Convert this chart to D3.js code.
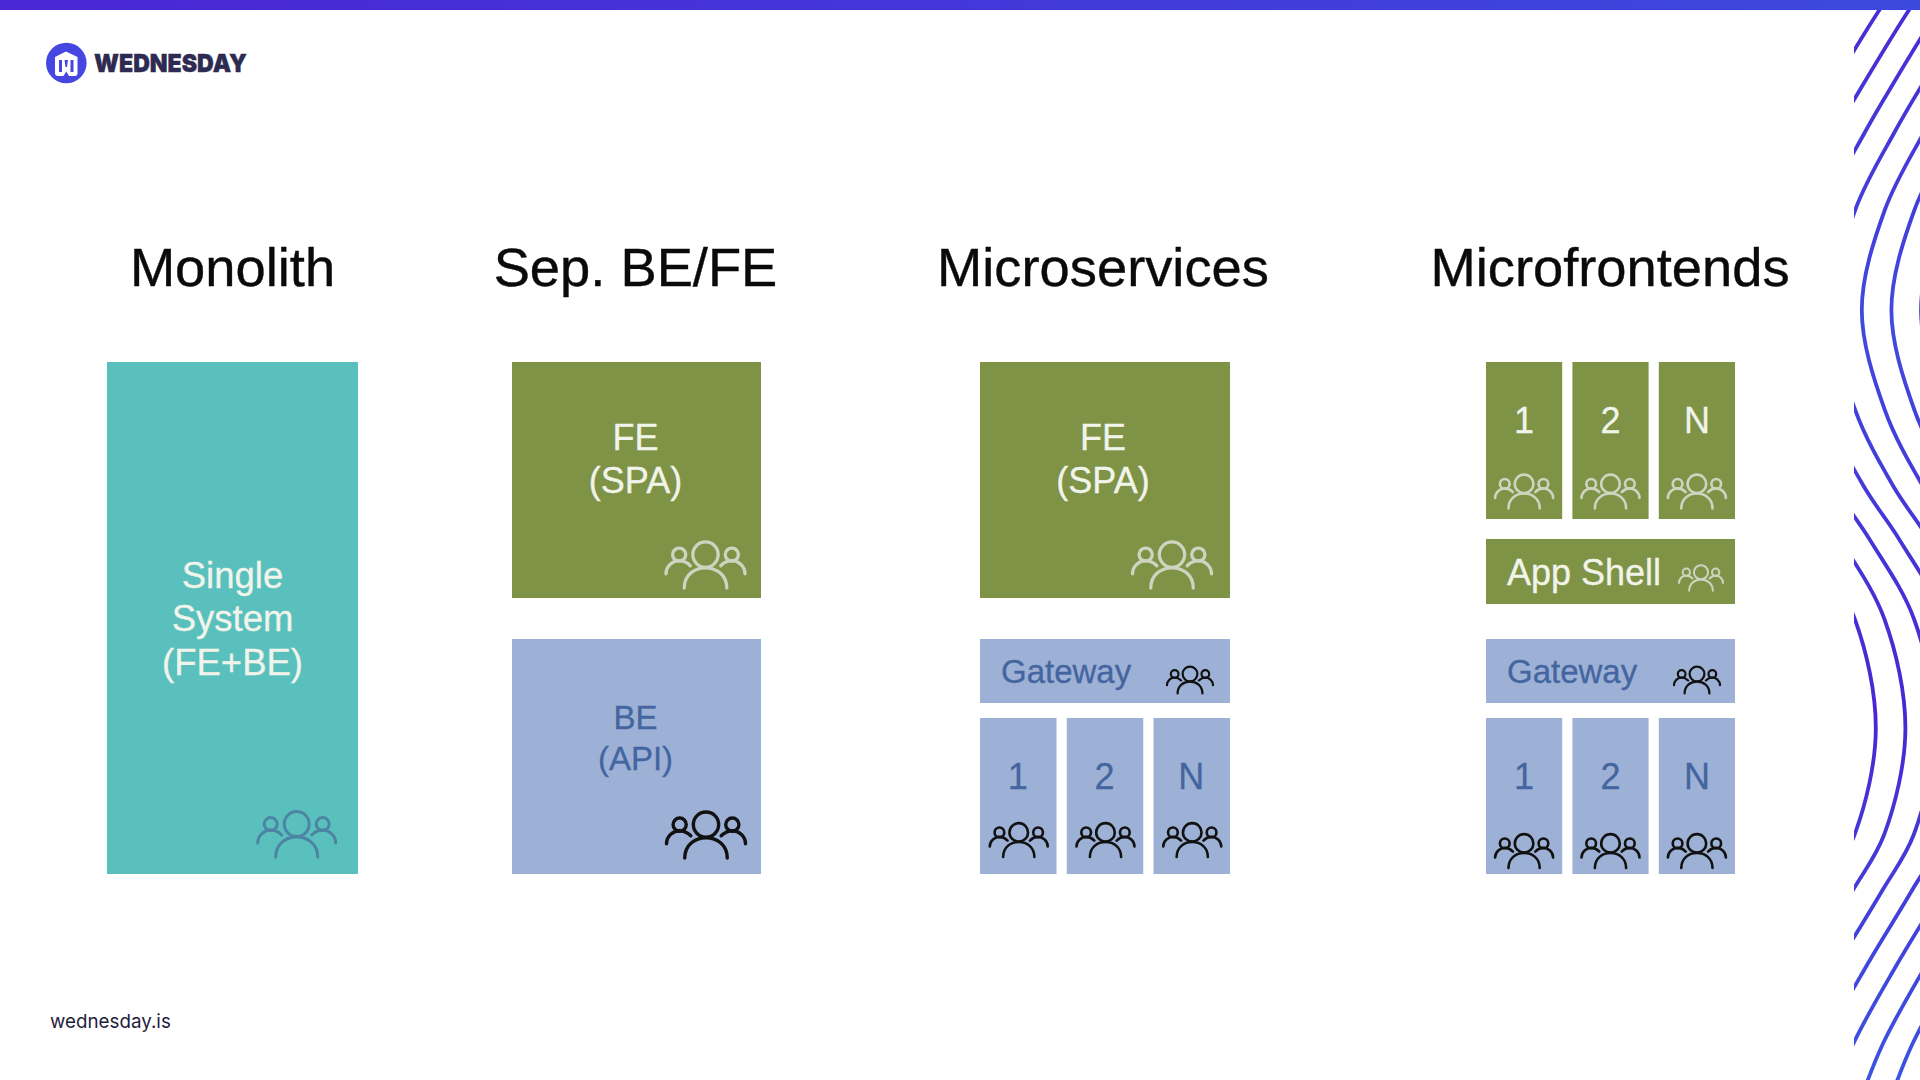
<!DOCTYPE html>
<html>
<head>
<meta charset="utf-8">
<script src="https://cdn.jsdelivr.net/npm/d3@7.9.0/dist/d3.min.js"></script>
<style>
html, body { margin: 0; padding: 0; background: #fff; }
svg { display: block; }
text { font-family: "Liberation Sans", Arial, sans-serif; }
</style>
</head>
<body>
<div id="slide"></div>
<script>
// ---------- DATA ----------

const columnTitles = ["Monolith", "Sep. BE/FE", "Microservices", "Microfrontends"];
const monolithLines = ["Single", "System", "(FE+BE)"];
const feLines = ["FE", "(SPA)"];
const beLines = ["BE", "(API)"];
const cellLabels = ["1", "2", "N"];
const gatewayLabel = "Gateway";
const shellLabel = "App Shell";
const brandName = "WEDNESDAY";
const footerText = "wednesday.is";

const waveY = [-30, 10, 83, 131, 210, 310, 410, 486, 540, 619, 729, 834, 891, 964, 1044, 1110];
const waveX = [1937, 1909, 1864, 1836, 1796, 1773, 1796, 1834, 1870, 1914, 1935, 1914, 1882, 1838, 1794, 1768];
const waveSteps = [-2, -1, 0, 1, 2, 3, 4, 5];

// ---------- SETUP ----------

const W = 1920, H = 1080;
const GREEN = "#7f9347", BLUE = "#9cb1d5", TEAL = "#5ac0bd";
const SOFT_WHITE = "#f1f4ea", BLUE_TEXT = "#44659f";
const ICON_LIGHT = "#ced4c0", ICON_DARK = "#111", ICON_TEAL = "#4c84a3";

const svg = d3.select("#slide").append("svg")
    .attr("width", W)
    .attr("height", H)
    .attr("viewBox", `0 0 ${W} ${H}`);

const defs = svg.append("defs");

const barGradient = defs.append("linearGradient")
    .attr("id", "barGradient");
barGradient.append("stop").attr("offset", "0%").attr("stop-color", "#4a26d4");
barGradient.append("stop").attr("offset", "100%").attr("stop-color", "#3c49de");

const waveGradient = defs.append("linearGradient")
    .attr("id", "waveGradient")
    .attr("gradientUnits", "userSpaceOnUse")
    .attr("x1", 0).attr("y1", 0).attr("x2", 0).attr("y2", H);
[[0, "#4a2ad4"], [0.3, "#3f4ade"], [0.66, "#4a26d2"], [1, "#3c55e0"]].forEach(([o, c]) => {
    waveGradient.append("stop").attr("offset", o).attr("stop-color", c);
});

defs.append("clipPath").attr("id", "waveClip")
    .append("rect")
    .attr("x", 1854).attr("y", 10)
    .attr("width", W - 1854).attr("height", H - 10);

// ---------- WAVES + TOP BAR ----------

const stepScale = d3.scaleLinear().domain([0, 1]).range([0, 29.6]);
const waveLine = d3.line().curve(d3.curveCatmullRom.alpha(0.5));

svg.append("g")
    .attr("clip-path", "url(#waveClip)")
    .selectAll("path")
    .data(waveSteps)
    .join("path")
    .attr("d", s => waveLine(waveY.map((y, i) => [waveX[i] + stepScale(s), y])))
    .attr("fill", "none")
    .attr("stroke", "url(#waveGradient)")
    .attr("stroke-width", 3.8);

svg.append("rect")
    .attr("width", W)
    .attr("height", 10)
    .attr("fill", "url(#barGradient)");

// ---------- HELPERS ----------

function box(x0, x1, y0, y1, fill) {
    svg.append("rect")
        .attr("x", x0).attr("y", y0)
        .attr("width", x1 - x0).attr("height", y1 - y0)
        .attr("fill", fill);
}

function label(lines, x, baseline, size, step, fill, anchor = "middle") {
    svg.append("g")
        .selectAll("text")
        .data(lines)
        .join("text")
        .attr("x", x)
        .attr("y", (d, i) => baseline + i * step)
        .attr("font-size", size)
        .attr("text-anchor", anchor)
        .attr("fill", fill)
        .attr("stroke", fill)
        .attr("stroke-width", 0.3)
        .text(d => d);
}

// three people, drawn 78 wide around their centre and scaled to the box
function people(cx, cy, width, color, strokeW = 3) {
    const k = width / 78;
    const g = svg.append("g")
        .attr("transform", `translate(${cx},${cy + 5.75 * k}) scale(${k})`)
        .attr("fill", "none")
        .attr("stroke", color)
        .attr("stroke-width", strokeW / k)
        .attr("stroke-linecap", "round");

    g.append("circle").attr("cy", -16).attr("r", 12.5);
    [-26, 26].forEach(x => g.append("circle").attr("cx", x).attr("cy", -16).attr("r", 6.5));

    g.append("path").attr("d", "M-21,17 C-21,4 -11,-3 0,-3 C11,-3 21,4 21,17");
    g.append("path").attr("d", "M-39,3 C-39,-5 -32,-10 -26,-10 C-22,-10 -18,-8 -15,-5");
    g.append("path").attr("d", "M39,3 C39,-5 32,-10 26,-10 C22,-10 18,-8 15,-5");
}

function cellScale(x0, x1) {
    return d3.scaleBand().domain(cellLabels).range([x0, x1]).paddingInner(0.118);
}

// ---------- TITLES ----------

const titleCentres = [232.5, 635.5, 1103, 1610];

svg.append("g")
    .selectAll("text")
    .data(columnTitles)
    .join("text")
    .attr("x", (d, i) => titleCentres[i])
    .attr("y", 285.5)
    .attr("font-size", 54.3)
    .attr("text-anchor", "middle")
    .attr("fill", "#0a0a0a")
    .attr("stroke", "#0a0a0a")
    .attr("stroke-width", 0.4)
    .text(d => d);

// ---------- MONOLITH ----------

box(107, 358, 362, 874, TEAL);
label(monolithLines, 232.5, 588, 36.5, 43.3, SOFT_WHITE);
people(296.7, 834.3, 78, ICON_TEAL);

// ---------- SEP. BE/FE ----------

box(512, 761, 362, 598, GREEN);
label(feLines, 635.5, 450, 36, 43.3, SOFT_WHITE);
people(705.5, 565, 79, ICON_LIGHT, 3.3);

box(512, 761, 639, 874, BLUE);
label(beLines, 635.5, 729, 33, 40.5, BLUE_TEXT);
people(706, 835, 79, ICON_DARK, 3.4);

// ---------- MICROSERVICES ----------

box(980, 1230, 362, 598, GREEN);
label(feLines, 1103, 450, 36, 43.3, SOFT_WHITE);
people(1172, 565, 79, ICON_LIGHT, 3.3);

box(980, 1230, 639, 703, BLUE);
label([gatewayLabel], 1001, 683, 33, 0, BLUE_TEXT, "start");
people(1190, 680, 46, ICON_DARK, 2.2);

const microCells = cellScale(980, 1230);
cellLabels.forEach(c => {
    const cx = microCells(c) + microCells.bandwidth() / 2;
    box(microCells(c), microCells(c) + microCells.bandwidth(), 718, 874, BLUE);
    label([c], cx - 0.5, 789, 36, 0, BLUE_TEXT);
    people(cx + 0.5, 840, 58, ICON_DARK, 2.6);
});

// ---------- MICROFRONTENDS ----------

const frontCells = cellScale(1486, 1735);
cellLabels.forEach(c => {
    const cx = frontCells(c) + frontCells.bandwidth() / 2;
    box(frontCells(c), frontCells(c) + frontCells.bandwidth(), 362, 519, GREEN);
    label([c], cx, 433, 36, 0, SOFT_WHITE);
    people(cx, 491.5, 58, ICON_LIGHT, 2.6);

    box(frontCells(c), frontCells(c) + frontCells.bandwidth(), 718, 874, BLUE);
    label([c], cx, 789, 36, 0, BLUE_TEXT);
    people(cx, 851, 58, ICON_DARK, 2.6);
});

box(1486, 1735, 539, 604, GREEN);
label([shellLabel], 1507, 585, 36, 0, SOFT_WHITE, "start");
people(1701, 578, 44, ICON_LIGHT, 2);

box(1486, 1735, 639, 703, BLUE);
label([gatewayLabel], 1507, 683, 33, 0, BLUE_TEXT, "start");
people(1697, 680, 46, ICON_DARK, 2.2);

// ---------- LOGO + FOOTER ----------

const logo = svg.append("g");
logo.append("circle")
    .attr("cx", 66.3).attr("cy", 63).attr("r", 20.3)
    .attr("fill", "#4647e0");
logo.append("path")
    .attr("d", "M55,57 L66,51.5 L77.5,57 L77.5,73 Q77.5,76 75,76 L58,76 Q55,76 55,73 Z")
    .attr("fill", "#fff");
logo.append("path")
    .attr("d", "M60.5,60 L60.5,72 M72,60 L72,72")
    .attr("stroke", "#4647e0")
    .attr("stroke-width", 3);
logo.append("path")
    .attr("d", "M64.5,60 L68,60 L67,67 L65.5,67 Z M66.2,71.5 L69,76 L63.5,76 Z")
    .attr("fill", "#4647e0");

svg.append("text")
    .attr("x", 94)
    .attr("y", 72)
    .attr("font-size", 25)
    .attr("font-weight", 900)
    .attr("textLength", 153)
    .attr("lengthAdjust", "spacingAndGlyphs")
    .attr("fill", "#2e2b52")
    .attr("stroke", "#2e2b52")
    .attr("stroke-width", 0.4)
    .style("font-family", "Inter, 'Liberation Sans', sans-serif")
    .text(brandName);

svg.append("text")
    .attr("x", 50)
    .attr("y", 1028)
    .attr("font-size", 18.8)
    .attr("fill", "#1f1d3d")
    .style("font-family", "Inter, 'Liberation Sans', sans-serif")
    .text(footerText);
</script>
</body>
</html>
